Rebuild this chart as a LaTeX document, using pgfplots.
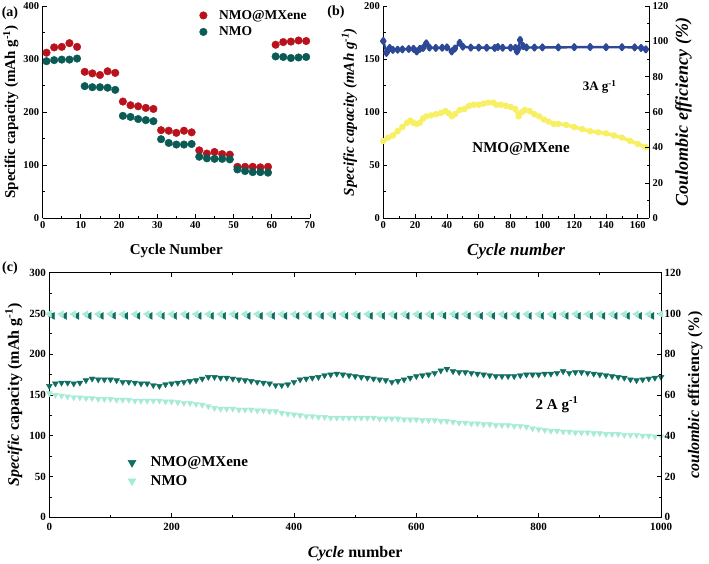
\documentclass[border=0pt]{standalone}
\usepackage{pgfplots}
\usepackage{pgfplotstable}
\pgfplotsset{compat=1.18}
\usepackage{fontspec}
\setmainfont{Liberation Serif}
\usetikzlibrary{plotmarks}

\definecolor{cred}{RGB}{185,18,28}
\definecolor{cteal}{RGB}{10,90,85}
\definecolor{cblue}{RGB}{45,72,150}
\definecolor{cyel}{RGB}{248,240,100}
\definecolor{cdark}{RGB}{14,110,95}
\definecolor{clight}{RGB}{165,235,215}

\pgfplotsset{
  myaxis/.style={
    scale only axis,
    axis line style={line width=0.9pt},
    every tick/.style={line width=0.8pt, black},
    tick align=inside,
    major tick length=4pt, minor tick length=2.5pt,
    tick label style={font=\bfseries\fontsize{10.5}{12}\selectfont},
    /pgf/number format/assume math mode=true,
    /pgf/number format/1000 sep={},
    label style={font=\bfseries},
  }
}

% ---------- panel (a) data ----------
\pgfplotstableread{
x y
1 312
3 322
5 323
7 330
9 323
11 276
13 273
15 270
17 277
19 274
21 220
23 213
25 211
27 208
29 206
31 166
33 165
35 161
37 165
39 162
41 128
43 122
45 125
47 121
49 120
51 97
53 97
55 97
57 96
59 97
61 327
63 332
65 333
67 335
69 334
}\tabAmx
\pgfplotstableread{
x y
1 296
3 298
5 299
7 299
9 301
11 249
13 247
15 247
17 246
19 242
21 193
23 191
25 187
27 185
29 183
31 149
33 142
35 139
37 139
39 140
41 116
43 113
45 112
47 112
49 111
51 92
53 89
55 87
57 87
59 86
61 305
63 304
65 302
67 303
69 304
}\tabAnmo

% ---------- panel (b) data ----------
\pgfplotstableread{
x y
0 73
3 76
6 78
9 82
12 86
15 90
17 92
19 90
21 89
23 90
25 94
27 96
30 97
33 98
36 99
39 101
41 99
43 96
45 98
48 102
51 103
54 106
57 107
60 107
63 108
66 109
69 109
71 107
74 107
77 106
80 105
83 103
85 96
87 100
89 102
92 101
95 98
98 96
101 93
104 91
107 89
110 89
115 88
120 86
125 84
130 82
135 81
140 80
145 78
150 76
155 73
160 70
165 67
}\tabBcap
\pgfplotstableread{
x y
0 100.2
2 93.5
3 95.0
4 96.3
6 95.2
9 95.3
12 95.5
16 95.7
19 95.8
21 94.3
23 95.8
25 96.3
27 98.9
29 96.5
33 96.3
37 96.4
40 96.6
43 94.3
45 96.0
48 99.2
50 97.0
55 96.5
60 96.5
65 96.4
70 96.3
72 96.8
75 96.4
80 96.4
83 96.3
84 94.3
85 96.0
86 100.8
88 97.3
90 96.6
95 96.5
100 96.6
110 96.6
120 96.7
130 96.8
140 96.7
150 96.7
158 96.6
162 96.3
165 95.5
}\tabBce

% ---------- panel (c) data ----------
\pgfplotstableread{
x y
0 161
10 164
20 165
30 165
40 164
50 165
60 168
70 170
80 169
90 169
100 169
110 168
120 166
130 166
140 165
150 164
160 164
170 162
180 161
190 163
200 164
210 165
220 166
230 167
240 168
250 170
260 172
270 172
280 171
290 171
300 170
310 169
320 168
330 167
340 166
350 165
360 164
370 162
380 162
390 163
400 166
410 169
420 170
430 171
440 172
450 174
460 175
470 176
480 175
490 174
500 173
510 172
520 171
530 170
540 169
550 168
560 166
570 167
580 169
590 171
600 173
610 174
620 175
630 177
640 180
650 182
660 179
670 178
680 178
690 177
700 176
710 175
720 174
730 173
740 173
750 173
760 173
770 174
780 175
790 175
800 175
810 176
820 176
830 177
840 179
850 177
860 178
870 178
880 177
890 176
900 175
910 174
920 173
930 172
940 171
950 169
960 168
970 169
980 170
990 171
1000 172
}\tabCmx
\pgfplotstableread{
x y
0 152
10 150
20 149
30 148
40 147
50 147
60 146
70 146
80 145
90 145
100 145
110 144
120 144
130 144
140 143
150 143
160 143
170 143
180 143
190 142
200 142
210 141
220 140
230 140
240 139
250 138
260 136
270 134
280 133
290 133
300 133
310 132
320 132
330 132
340 131
350 131
360 130
370 130
380 128
390 127
400 126
410 125
420 124
430 124
440 123
450 123
460 122
470 122
480 122
490 122
500 122
510 122
520 122
530 122
540 121
550 121
560 121
570 121
580 120
590 120
600 120
610 119
620 119
630 119
640 118
650 118
660 117
670 116
680 116
690 115
700 115
710 114
720 114
730 113
740 113
750 113
760 112
770 112
780 111
790 109
800 108
810 107
820 106
830 106
840 105
850 105
860 104
870 104
880 104
890 103
900 103
910 102
920 102
930 102
940 101
950 101
960 101
970 100
980 100
990 99
1000 99
}\tabCnmo
\pgfplotstableread{
x y
5 98.8
25 98.8
45 98.8
65 98.8
85 98.8
105 98.9
125 98.8
145 98.8
165 98.8
185 98.8
205 98.8
225 98.8
245 98.8
265 98.8
285 98.8
305 98.8
325 98.8
345 98.8
365 98.8
385 98.8
405 98.8
425 98.8
445 98.8
465 98.8
485 98.8
505 98.8
525 98.8
545 98.8
565 98.8
585 98.8
605 98.8
625 98.8
645 98.9
665 98.8
685 98.8
705 98.8
725 98.8
745 98.8
765 98.8
785 98.8
805 98.8
825 98.8
845 98.8
865 98.8
885 98.8
905 98.8
925 98.8
945 98.8
965 98.8
985 98.8
}\tabCcemx
\pgfplotstableread{
x y
0 99.8
20 99.7
40 99.7
60 99.7
80 99.7
100 99.8
120 99.7
140 99.7
160 99.7
180 99.7
200 99.7
220 99.7
240 99.7
260 99.7
280 99.7
300 99.7
320 99.7
340 99.7
360 99.7
380 99.7
400 99.7
420 99.7
440 99.7
460 99.7
480 99.7
500 99.7
520 99.7
540 99.7
560 99.7
580 99.7
600 99.7
620 99.7
640 99.7
660 99.8
680 99.7
700 99.7
720 99.7
740 99.7
760 99.7
780 99.7
800 99.7
820 99.7
840 99.7
860 99.8
880 99.7
900 99.7
920 99.7
940 99.7
960 99.7
980 99.7
1000 99.7
}\tabCcenmo

\begin{document}
\begin{tikzpicture}[x=1pt,y=1pt]
\useasboundingbox (0,0) rectangle (709,563);

% ================= (a) =================
\begin{axis}[myaxis,
  at={(42.7pt,344.7pt)}, anchor=south west,
  width=267.3pt, height=212.3pt,
  xmin=0, xmax=70, ymin=0, ymax=400,
  axis x line*=bottom, axis y line*=left,
  xtick={0,10,...,70}, ytick={0,100,...,400},
  minor x tick num=1, minor y tick num=1,
  xlabel={Cycle Number},
  ylabel={Specific capacity (mAh g\textsuperscript{-1})},
  xlabel style={font=\bfseries\fontsize{15}{17}\selectfont, yshift=-8pt},
  ylabel style={font=\bfseries\fontsize{15}{17}\selectfont, yshift=-2pt},
  legend style={draw=none, fill=none, at={(0.5735,1.0)}, anchor=north west,
    font=\bfseries\fontsize{13.5}{15}\selectfont, row sep=2pt},
  legend cell align=left,
  legend image code/.code={\path (-4pt,0pt) (13.5pt,0pt); \draw[#1] plot coordinates {(0pt,0pt)};},
]
\addplot[only marks, mark=*, mark size=3.8pt, color=cred] table {\tabAmx};
\addlegendentry{NMO@MXene}
\addplot[only marks, mark=*, mark size=3.8pt, color=cteal] table {\tabAnmo};
\addlegendentry{NMO}
\end{axis}

% ================= (b) =================
\begin{axis}[myaxis,
  at={(383.3pt,344.7pt)}, anchor=south west,
  width=265.7pt, height=212.3pt,
  xmin=0, xmax=167, ymin=0, ymax=200,
  axis x line*=bottom, axis y line*=left,
  xtick={0,20,...,160}, ytick={0,50,...,200},
  minor x tick num=1, minor y tick num=1,
  xlabel={\textit{Cycle number}},
  ylabel={\textit{Specific capacity (mAh g\textsuperscript{-1})}},
  xlabel style={font=\bfseries\fontsize{17}{19}\selectfont, yshift=-8pt},
  ylabel style={font=\bfseries\fontsize{15}{17}\selectfont},
]
\addplot[color=cyel, line width=3.5pt, mark=*, mark size=1.8pt, line join=round] table {\tabBcap};
\node[font=\bfseries\fontsize{13}{15}\selectfont] at (axis cs:136,124) {3A g\textsuperscript{-1}};
\node[font=\bfseries\fontsize{15}{17}\selectfont] at (axis cs:86.6,65.3) {NMO@MXene};
\end{axis}
\begin{axis}[myaxis,
  at={(383.3pt,344.7pt)}, anchor=south west,
  width=265.7pt, height=212.3pt,
  xmin=0, xmax=167, ymin=0, ymax=120,
  axis x line=none, axis y line*=right,
  ytick={0,20,...,120}, minor y tick num=1,
  ylabel={\textit{Coulombic efficiency (\%)}},
  ylabel style={font=\bfseries\fontsize{18}{20}\selectfont},
]
\addplot[color=cblue, line width=2.4pt, mark=diamond*, mark size=2.8pt, line join=round] table {\tabBce};
\end{axis}

% ================= (c) =================
\begin{axis}[myaxis,
  at={(49.3pt,45.7pt)}, anchor=south west,
  width=611.7pt, height=244.6pt,
  xmin=0, xmax=1000, ymin=0, ymax=300,
  ytick pos=left,
  xtick={0,200,...,1000}, ytick={0,50,...,300},
  minor x tick num=1, minor y tick num=1,
  tick label style={font=\bfseries\fontsize{11}{13}\selectfont},
  xticklabel style={yshift=-2.5pt},
  xlabel={\textit{Cycle} number},
  ylabel={\textit{Specific} capacity (mAh g\textsuperscript{-1})},
  xlabel style={font=\bfseries\fontsize{16}{18}\selectfont, yshift=-9pt},
  ylabel style={font=\bfseries\fontsize{16}{18}\selectfont},
  legend style={draw=none, fill=none, at={(0.1215,0.264)}, anchor=north west,
    font=\bfseries\fontsize{15}{17}\selectfont, row sep=3pt},
  legend cell align=left,
  legend image code/.code={\path (-5pt,0pt) (16.5pt,0pt); \draw[#1, mark size=4.6pt] plot coordinates {(0pt,0pt)};},
]
\addplot[only marks, color=cdark, mark=triangle*, mark size=3.4pt, mark options={rotate=180}] table {\tabCmx};
\addlegendentry{NMO@MXene}
\addplot[only marks, color=clight, mark=triangle*, mark size=3.4pt, mark options={rotate=180}] table {\tabCnmo};
\addlegendentry{NMO}
\node[font=\bfseries\fontsize{15}{17}\selectfont] at (axis cs:830,138) {2 A g\textsuperscript{-1}};
\end{axis}
\begin{axis}[myaxis,
  at={(49.3pt,45.7pt)}, anchor=south west,
  width=611.7pt, height=244.6pt,
  xmin=0, xmax=1000, ymin=0, ymax=120,
  axis x line=none, axis y line*=right,
  ytick={0,20,...,120}, minor y tick num=1,
  tick label style={font=\bfseries\fontsize{11}{13}\selectfont},
  ylabel={\textit{coulombic} efficiency (\%)},
  ylabel style={font=\bfseries\fontsize{16}{18}\selectfont},
]
\addplot[only marks, color=cdark, mark=triangle*, mark size=4pt, mark options={rotate=90}] table {\tabCcemx};
\addplot[only marks, color=clight, mark=triangle*, mark size=4pt, mark options={rotate=90}] table {\tabCcenmo};
\end{axis}

% panel labels
\node[font=\bfseries\fontsize{14}{16}\selectfont] at (10,550) {(a)};
\node[font=\bfseries\fontsize{14}{16}\selectfont] at (336,551) {(b)};
\node[font=\bfseries\fontsize{14}{16}\selectfont] at (10,295) {(c)};
\end{tikzpicture}
\end{document}
